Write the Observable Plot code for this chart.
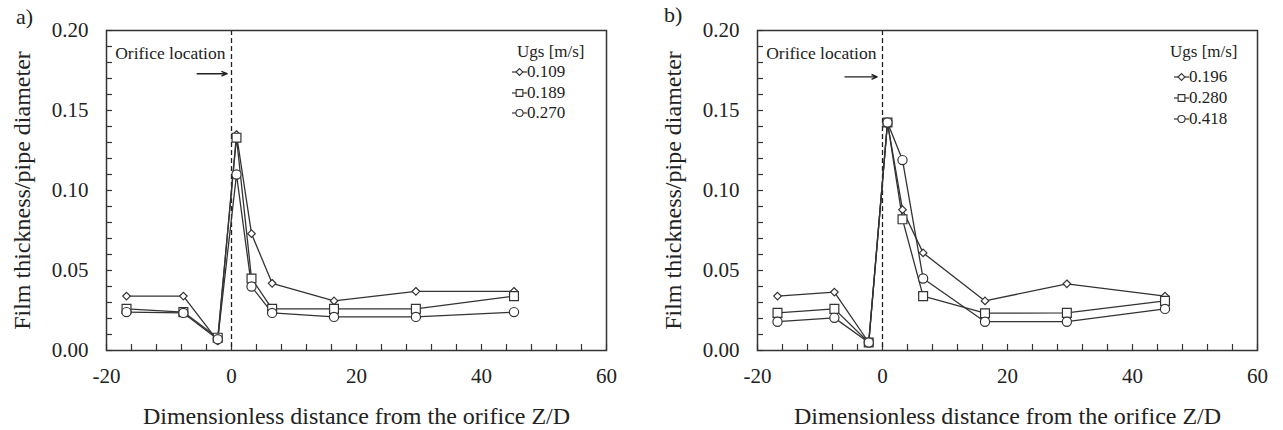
<!DOCTYPE html>
<html>
<head>
<meta charset="utf-8">
<script src="https://cdn.jsdelivr.net/npm/d3@7"></script>
<script src="https://cdn.jsdelivr.net/npm/@observablehq/plot@0.6"></script>
<style>
  body { margin: 0; background: #fff; font-family: "Liberation Serif", "Times New Roman", serif; color: #222; }
  #wrap { position: relative; width: 1283px; height: 430px; overflow: hidden; background: #fff; }
  .panel { position: absolute; top: 0; }
  .tag { position: absolute; font-size: 22px; line-height: 22px; color: #222; }
  .legtitle { position: absolute; font-size: 17px; line-height: 18px; color: #222; white-space: nowrap; }
  .legrow { position: absolute; height: 18px; display: flex; align-items: center; font-size: 17px; line-height: 18px; color: #222; white-space: nowrap; }
  .legrow svg { display: block; }
</style>
</head>
<body>
<div id="wrap"></div>
<script>
// ---------- data ----------
const zOverD = [-16.8, -7.7, -2.2, 0.8, 3.2, 6.5, 16.4, 29.5, 45.2];

// panel a)
const seriesA = ["0.109", "0.189", "0.270"];
const a109 = [0.034, 0.034, 0.006, 0.135, 0.073, 0.042, 0.031, 0.037, 0.037];
const a189 = [0.026, 0.024, 0.008, 0.133, 0.045, 0.026, 0.026, 0.026, 0.034];
const a270 = [0.024, 0.0235, 0.007, 0.110, 0.040, 0.0235, 0.021, 0.021, 0.024];

// panel b)
const seriesB = ["0.196", "0.280", "0.418"];
const b196 = [0.034, 0.0365, 0.005, 0.1425, 0.088, 0.061, 0.031, 0.0417, 0.034];
const b280 = [0.0235, 0.026, 0.005, 0.1425, 0.082, 0.034, 0.0233, 0.0235, 0.031];
const b418 = [0.018, 0.0204, 0.005, 0.1425, 0.119, 0.045, 0.018, 0.018, 0.026];

// ticks
const xLabelTicks = [-20, 0, 20, 40, 60];
const xMinorTicks = [-20, -16, -12, -8, -4, 0, 4, 8, 12, 16, 20, 24, 28, 32, 36, 40, 44, 48, 52, 56, 60];
const yLabelTicks = [0, 0.05, 0.10, 0.15, 0.20];
const yMinorTicks = [0, 0.01, 0.02, 0.03, 0.04, 0.05, 0.06, 0.07, 0.08, 0.09, 0.10,
                     0.11, 0.12, 0.13, 0.14, 0.15, 0.16, 0.17, 0.18, 0.19, 0.20];

const xTitle = "Dimensionless distance from the orifice Z/D";
const yTitle = "Film thickness/pipe diameter";
const legendTitle = "Ugs [m/s]";
const orificeLabel = "Orifice location";
const orificeZ = 0;

const symbols = ["diamond2", "square", "circle"];
const symbolR = [3.4, 5.0, 4.6];
const ink = "#333";

function rows(series, valueArrays) {
  const out = [];
  series.forEach((s, i) => valueArrays[i].forEach((v, j) => out.push({series: s, z: zOverD[j], v})));
  return out;
}

function panel({series, values, left, width, marginRight, arrowY, arrowX1, arrowX2}) {
  const data = rows(series, values);
  const dotMarks = series.map((s, i) =>
    Plot.dot(data.filter(d => d.series === s), {
      x: "z", y: "v", symbol: () => symbols[i], r: symbolR[i],
      fill: "white", stroke: ink, strokeWidth: 1.2
    })
  );
  const chart = Plot.plot({
    width, height: 430,
    marginLeft: 106, marginRight, marginTop: 30, marginBottom: 80,
    style: {fontFamily: "Liberation Serif, Times New Roman, serif", fontSize: "21px", color: "#222", background: "white", overflow: "visible"},
    x: {domain: [-20, 60]},
    y: {domain: [0, 0.2]},
    symbol: {type: "identity"},
    marks: [
      Plot.axisX({ticks: xMinorTicks, anchor: "bottom", tickSize: 6, dy: -6, stroke: ink, strokeWidth: 1.2, tickFormat: () => "", label: null}),
      Plot.axisY({ticks: yMinorTicks, anchor: "left", tickSize: 6, dx: 6, stroke: ink, strokeWidth: 1.2, tickFormat: () => "", label: null}),
      Plot.axisX({ticks: xLabelTicks, tickSize: 0, tickPadding: 18, fontSize: 21, label: null, tickFormat: d => String(d)}),
      Plot.axisY({ticks: yLabelTicks, tickSize: 0, tickPadding: 18, fontSize: 21, label: null, tickFormat: d => d.toFixed(2)}),
      Plot.axisX({ticks: [], label: xTitle, labelAnchor: "center", labelOffset: 73, labelArrow: "none", fontSize: 24}),
      Plot.axisY({ticks: [], label: yTitle, labelAnchor: "center", labelOffset: 94, labelArrow: "none", fontSize: 24}),
      Plot.ruleX([orificeZ], {stroke: "#222", strokeWidth: 1.3, strokeDasharray: "5,3"}),
      Plot.text([orificeLabel], {x: orificeZ, frameAnchor: "top", dy: 23, dx: -6, textAnchor: "end", lineAnchor: "middle", fontSize: 17.5, fill: "#222", text: d => d}),
      Plot.arrow([orificeLabel], {x1: orificeZ + arrowX1, x2: orificeZ + arrowX2, y1: arrowY, y2: arrowY, stroke: "#222", strokeWidth: 1.4, headLength: 6, headAngle: 45}),
      ...series.map(s => Plot.line(data.filter(d => d.series === s), {x: "z", y: "v", stroke: ink, strokeWidth: 1.3})),
      ...dotMarks,
      Plot.frame({stroke: ink, strokeWidth: 1.5})
    ]
  });
  chart.classList.add("panel");
  chart.style.left = left + "px";
  return chart;
}

function swatch(i) {
  const s = d3.symbol(symbols[i] === "diamond2" ? d3.symbolDiamond2 : symbols[i] === "square" ? d3.symbolSquare : d3.symbolCircle,
                      i === 0 ? 30 : i === 1 ? 45 : 40)();
  return `<svg width="15" height="14"><line x1="0" x2="15" y1="7" y2="7" stroke="${ink}" stroke-width="1.2"/>` +
         `<path d="${s}" transform="translate(7.5,7)" fill="white" stroke="${ink}" stroke-width="1.1"/></svg>`;
}

function legend(wrap, series, titleLeft, titleY, swLeft, rowYs) {
  const t = document.createElement("div");
  t.className = "legtitle";
  t.textContent = legendTitle;
  t.style.left = titleLeft + "px";
  t.style.top = (titleY - 9) + "px";
  wrap.appendChild(t);
  series.forEach((s, i) => {
    const r = document.createElement("div");
    r.className = "legrow";
    r.style.left = swLeft + "px";
    r.style.top = (rowYs[i] - 9) + "px";
    r.innerHTML = swatch(i) + `<span>${s}</span>`;
    wrap.appendChild(r);
  });
}

function tag(wrap, text, left, top) {
  const t = document.createElement("div");
  t.className = "tag";
  t.textContent = text;
  t.style.left = left + "px";
  t.style.top = top + "px";
  wrap.appendChild(t);
}

const wrap = document.getElementById("wrap");
wrap.appendChild(panel({series: seriesA, values: [a109, a189, a270], left: 0, width: 641, marginRight: 35,
                       arrowY: 0.173, arrowX1: -5.5, arrowX2: -0.7}));
wrap.appendChild(panel({series: seriesB, values: [b196, b280, b418], left: 651, width: 632, marginRight: 26,
                       arrowY: 0.171, arrowX1: -6, arrowX2: -0.85}));
legend(wrap, seriesA, 517, 51.7, 512, [71.7, 92.7, 112.7]);
legend(wrap, seriesB, 1170, 51.7, 1174, [76.7, 97.7, 119]);
tag(wrap, "a)", 16, 6);
tag(wrap, "b)", 664, 4);
</script>
</body>
</html>
